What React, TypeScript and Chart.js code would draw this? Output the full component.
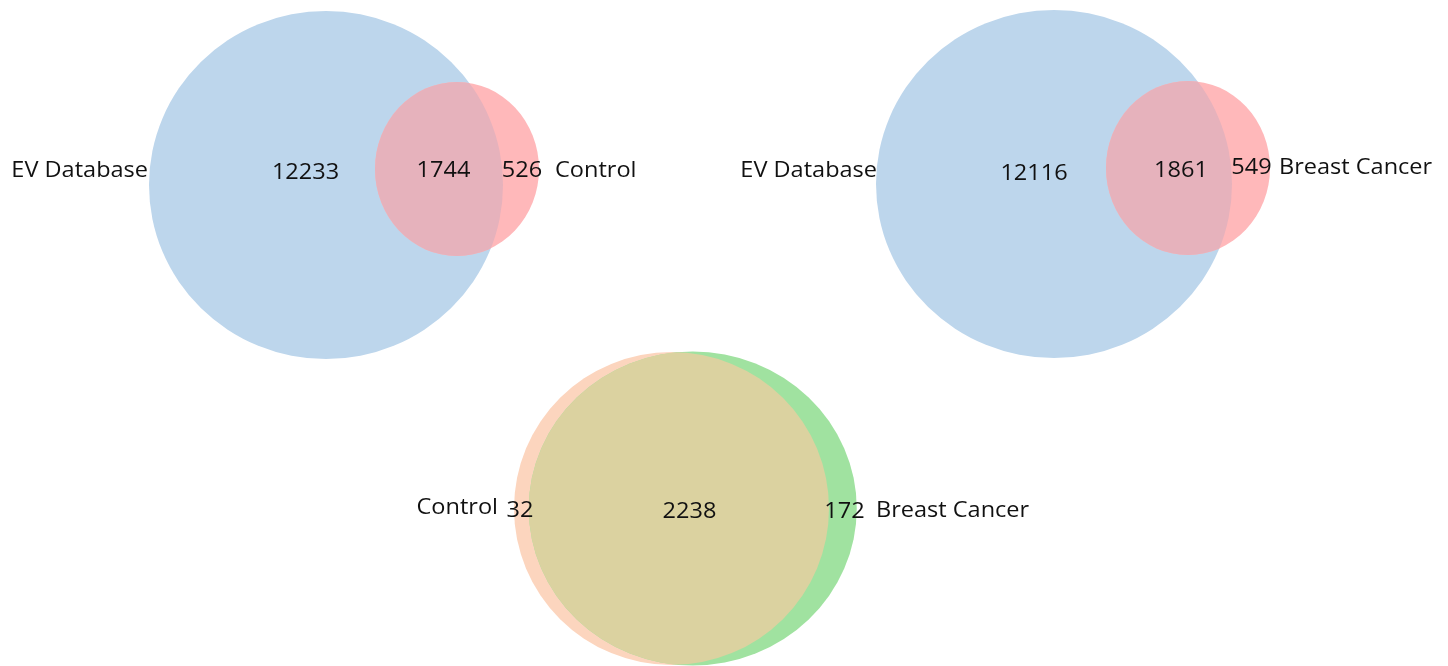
import { useEffect, useRef } from "react";
import { Chart, registerables } from "chart.js";

Chart.register(...registerables);

// ---- data ----
const setNames = ["EV Database", "Control", "Breast Cancer"];
// [left-only, overlap, right-only]
const vennControlCounts = [12233, 1744, 526];
const vennCancerCounts = [12116, 1861, 549];
const vennControlVsCancerCounts = [32, 2238, 172];

// ---- layout (data units == pixels, axes hidden) ----
type Ell = { cx: number; cy: number; rx: number; ry: number; fill: string };
type Venn = {
  left: Ell;
  right: Ell;
  overlapFill: string;
  counts: number[];
  leftName: string;
  rightName: string;
  countPos: { x: number; y: number }[];
  leftNamePos: { x: number; y: number };
  rightNamePos: { x: number; y: number };
};

const venns: Venn[] = [
  {
    left: { cx: 326, cy: 185, rx: 177, ry: 174, fill: "#BDD6EC" },
    right: { cx: 457, cy: 169, rx: 82, ry: 87, fill: "#FFB8BA" },
    overlapFill: "#E6B2BC",
    counts: vennControlCounts,
    leftName: setNames[0],
    rightName: setNames[1],
    countPos: [
      { x: 305.5, y: 179 },
      { x: 443.5, y: 177 },
      { x: 522, y: 177 },
    ],
    leftNamePos: { x: 148, y: 177 },
    rightNamePos: { x: 555, y: 177 },
  },
  {
    left: { cx: 1054, cy: 184, rx: 178, ry: 174, fill: "#BDD6EC" },
    right: { cx: 1188, cy: 168, rx: 82, ry: 87, fill: "#FFB8BA" },
    overlapFill: "#E6B2BC",
    counts: vennCancerCounts,
    leftName: setNames[0],
    rightName: setNames[2],
    countPos: [
      { x: 1034, y: 180 },
      { x: 1181, y: 177 },
      { x: 1251.5, y: 174 },
    ],
    leftNamePos: { x: 877, y: 177 },
    rightNamePos: { x: 1279, y: 174 },
  },
  {
    left: { cx: 671.5, cy: 508.5, rx: 157.5, ry: 156.5, fill: "#FCD5BE" },
    right: { cx: 692.75, cy: 508.5, rx: 164, ry: 157, fill: "#A0E2A0" },
    overlapFill: "#DBD2A0",
    counts: vennControlVsCancerCounts,
    leftName: setNames[1],
    rightName: setNames[2],
    countPos: [
      { x: 520, y: 517 },
      { x: 689.5, y: 518 },
      { x: 844.5, y: 518 },
    ],
    leftNamePos: { x: 498, y: 514 },
    rightNamePos: { x: 876, y: 517 },
  },
];

const FONT = '21px "Open Sans"';
const TEXT_SCALE_X = 1.12;
const TEXT_COLOR = "#111111";

const vennPlugin = {
  id: "vennPlugin",
  beforeDatasetsDraw(chart: any) {
    const ctx: CanvasRenderingContext2D = chart.ctx;
    const xs = chart.scales.x;
    const ys = chart.scales.y;
    const path = (e: Ell) => {
      const px = xs.getPixelForValue(e.cx);
      const py = ys.getPixelForValue(e.cy);
      const rx = Math.abs(xs.getPixelForValue(e.cx + e.rx) - px);
      const ry = Math.abs(ys.getPixelForValue(e.cy + e.ry) - py);
      ctx.beginPath();
      ctx.ellipse(px, py, rx, ry, 0, 0, Math.PI * 2);
      ctx.closePath();
    };
    venns.forEach((v) => {
      ctx.save();
      path(v.left);
      ctx.fillStyle = v.left.fill;
      ctx.fill();
      path(v.right);
      ctx.fillStyle = v.right.fill;
      ctx.fill();
      path(v.left);
      ctx.clip();
      path(v.right);
      ctx.fillStyle = v.overlapFill;
      ctx.fill();
      ctx.restore();
    });
  },
  afterDatasetsDraw(chart: any) {
    const ctx: CanvasRenderingContext2D = chart.ctx;
    const xs = chart.scales.x;
    const ys = chart.scales.y;
    const draw = (t: string, x: number, y: number, align: "left" | "right" | "center") => {
      const px = xs.getPixelForValue(x);
      const py = ys.getPixelForValue(y);
      ctx.save();
      ctx.translate(px, py);
      ctx.scale(TEXT_SCALE_X, 1);
      ctx.font = FONT;
      ctx.fillStyle = TEXT_COLOR;
      ctx.textAlign = align;
      ctx.textBaseline = "alphabetic";
      ctx.fillText(t, 0, 0);
      ctx.restore();
    };
    venns.forEach((v) => {
      v.counts.forEach((c, i) => draw(String(c), v.countPos[i].x, v.countPos[i].y, "center"));
      draw(v.leftName, v.leftNamePos.x, v.leftNamePos.y, "right");
      draw(v.rightName, v.rightNamePos.x, v.rightNamePos.y, "left");
    });
  },
};

export default function App() {
  const ref = useRef<HTMLCanvasElement | null>(null);
  useEffect(() => {
    if (!ref.current) return;
    const chart = new Chart(ref.current, {
      type: "scatter",
      data: {
        datasets: venns.map((v, i) => ({
          label: `venn${i}`,
          data: [
            { x: v.left.cx, y: v.left.cy },
            { x: v.right.cx, y: v.right.cy },
          ],
          pointRadius: 0,
          pointHoverRadius: 0,
        })),
      },
      options: {
        responsive: false,
        animation: false,
        layout: { padding: 0 },
        plugins: { legend: { display: false }, tooltip: { enabled: false } },
        events: [],
        scales: {
          x: { type: "linear", min: 0, max: 1448, display: false },
          y: { type: "linear", min: 0, max: 666, reverse: true, display: false },
        },
      },
      plugins: [vennPlugin],
    });
    return () => chart.destroy();
  }, []);
  return (
    <div style={{ position: "absolute", left: 0, top: 0, width: 1448, height: 666, background: "#fff" }}>
      <canvas ref={ref} width={1448} height={666} style={{ display: "block" }} />
    </div>
  );
}
